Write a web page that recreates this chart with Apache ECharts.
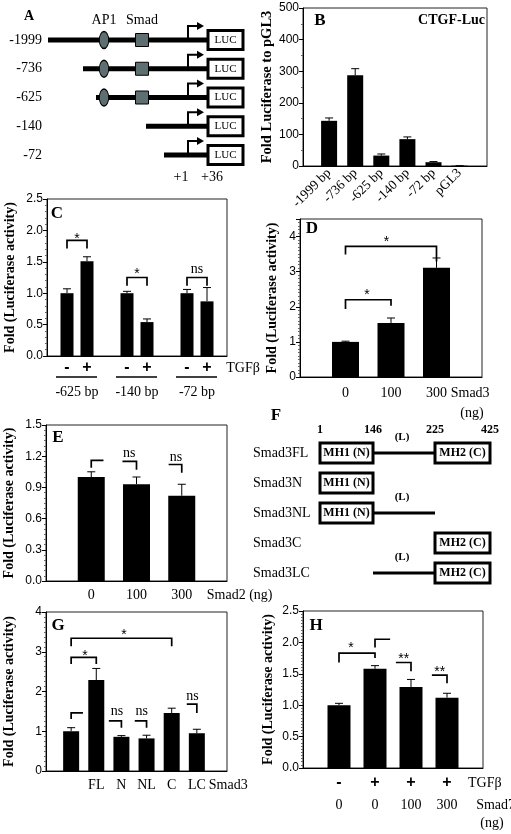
<!DOCTYPE html>
<html><head><meta charset="utf-8">
<script src="https://cdn.jsdelivr.net/npm/echarts@6.0.0/dist/echarts.min.js"></script>
<style>html,body{margin:0;padding:0;background:#fff;}#chart{width:511px;height:834px;}</style>
</head><body><div id="chart"></div>
<script>
// ---------------- DATA ----------------
// Panel A: promoter constructs (schematic units, TSS = 0)
const aNames = ['-1999','-736','-625','-140','-72'];
const aStart = [-140,-105,-92,-42,-24];
const aHasAP1 = [1,1,1,0,0];
const aHasSmad = [1,1,1,0,0];
const aSiteNames = ['AP1','Smad'];
const aSitePos = [-84,-46];
const aLuc = [20,55];
const aMarkNames = ['+1','+36'];
const aMarkPos = [-7,24];

// Panel B
const bCats = ['-1999 bp','-736 bp','-625 bp','-140 bp','-72 bp','pGL3'];
const bVals = [143,287,33,85,12,1];
const bErr  = [9,21,5,7,2,0];
const bTicks = [0,100,200,300,400,500];

// Panel C
const cTGF = ['-','+','-','+','-','+'];
const cPos = [1,2,4,5,7,8];
const cGroups = ['-625 bp','-140 bp','-72 bp'];
const cGroupPos = [1.5,4.5,7.5];
const cVals = [1.0,1.51,1.0,0.54,1.0,0.87];
const cErr  = [0.07,0.07,0.03,0.05,0.06,0.22];
const cTicks = [0,0.5,1,1.5,2,2.5];
const cBrackets = [[1,2,1.84,1.71,1.71],[4,5,1.25,1.12,1.12],[7,8,1.25,1.12,1.12]];
const cMarks = ['*','*','ns'];
const cMarkPos = [[1.5,1.93],[4.5,1.37],[7.5,1.38]];

// Panel D
const dDose = ['0','100','300'];
const dPos = [1,2,3];
const dVals = [1.0,1.54,3.11];
const dErr  = [0.02,0.14,0.28];
const dTicks = [0,1,2,3,4];
const dBrackets = [[1,3,3.72,3.49,3.29],[1,2,2.2,1.94,2.03]];
const dMarks = ['*','*'];
const dMarkPos = [[1.9,3.96],[1.47,2.44]];

// Panel E
const eDose = ['0','100','300'];
const ePos = [1,2,3];
const eVals = [1.0,0.93,0.82];
const eErr  = [0.05,0.07,0.11];
const eTicks = [0,0.3,0.6,0.9,1.2,1.5];
const eBrackets = [[1,1.27,1.16,1.09,null],[1.69,2,1.15,null,1.07],[2.71,3,1.12,null,1.04]];
const eMarks = ['ns','ns'];
const eMarkPos = [[1.84,1.23],[2.87,1.19]];

// Panel F: Smad3 constructs
const fNames = ['Smad3FL','Smad3N','Smad3NL','Smad3C','Smad3LC'];
const fHasMH1 = [1,1,1,0,0];
const fHasL   = [1,0,1,0,1];
const fHasMH2 = [1,0,0,1,1];
const fAA = ['1','146','225','425'];
const fAAPos = [65,118,180,235];
const fDomainText = ['MH1 (N)','MH2 (C)','(L)'];

// Panel G
const gCats = ['FL','N','NL','C','LC','Smad3'];
const gCatPos = [2,3,4,5,6,7.25];
const gPos = [1,2,3,4,5,6];
const gVals = [1.0,2.29,0.86,0.82,1.46,0.95];
const gErr  = [0.09,0.29,0.03,0.08,0.12,0.1];
const gTicks = [0,1,2,3,4];
const gBrackets = [[1,5,3.34,3.14,3.14],[1,2,2.86,2.69,2.69],[1,1.47,1.46,1.31,null],[2.5,3,1.26,null,1.09],[3.53,4,1.26,null,1.09],[5.6,6,1.68,null,1.46]];
const gMarks = ['*','*','ns','ns','ns'];
const gMarkPos = [[3.1,3.52],[1.55,2.99],[2.82,1.49],[3.81,1.49],[5.83,1.88]];

// Panel H
const hTGF = ['-','+','+','+','TGF\u03b2'];
const hTGFPos = [1,2,3,4,5.05];
const hDose = ['0','0','100','300','Smad7'];
const hDosePos = [1,2,3,4,5.35];
const hPos = [1,2,3,4];
const hVals = [1.0,1.58,1.29,1.12];
const hErr  = [0.03,0.05,0.12,0.07];
const hTicks = [0,0.5,1,1.5,2,2.5];
const hBrackets = [[1,2,1.83,1.68,1.75],[2,2.42,2.05,1.92,null],[2.58,3,1.68,null,1.54],[3.58,4,1.48,null,1.35]];
const hMarks = ['*','**','**'];
const hMarkPos = [[1.33,1.98],[2.8,1.79],[3.8,1.59]];

// ---------------- BUILD ----------------
const SERIF = 'Liberation Serif', SANS = 'Liberation Sans';
const grids = [], xAxes = [], yAxes = [], series = [], graphics = [];
const YTITLE = 'Fold (Luciferase activity)';

function hiddenGrid(box, xMin, xMax, yMin, yMax){
  const gi = grids.length;
  grids.push({left:box[0], top:box[1], width:box[2], height:box[3], show:false});
  xAxes.push({gridIndex:gi, type:'value', min:xMin, max:xMax, show:false});
  yAxes.push({gridIndex:gi, type:'value', min:yMin, max:yMax, inverse:true, show:false});
  return gi;
}

function textSeries(gi, texts, pts, dy, st){
  series.push({type:'custom', xAxisIndex:gi, yAxisIndex:gi, clip:false, silent:true, z:6,
    data: pts.map(p=>[p[0], p[1]]),
    renderItem:(params, api)=>{
      const p = api.coord([api.value(0), api.value(1)]);
      const t = texts[params.dataIndex];
      const extra = (st.starShift && t.indexOf('*')>=0) ? st.starShift : 0;
      return {type:'text', x:p[0], y:p[1]+dy+extra,
        style:{text:t, fill:'#000', align:st.align||'center', verticalAlign:'middle',
               fontFamily:st.fontFamily, fontSize:st.fontSize, fontWeight:st.fontWeight||'normal'}};
    }});
}

function barPanel(p){
  const gi = grids.length;
  grids.push({left:p.box[0], top:p.box[1], width:p.box[2], height:p.box[3], show:true,
              borderColor:'#222', borderWidth:1, backgroundColor:'rgba(0,0,0,0)'});
  const ticks = p.ticks, iv = ticks[1]-ticks[0];
  xAxes.push({gridIndex:gi, type:'value', min:0, max:p.xMax, interval:1,
    axisLine:{show:true, onZero:false, lineStyle:{color:'#000', width:1}},
    axisTick:{show:false}, splitLine:{show:false},
    axisLabel: p.xAxisLabel || {show:false}});
  yAxes.push({gridIndex:gi, type:'value', min:ticks[0], max:(p.yMax!==undefined?p.yMax:ticks[ticks.length-1]), interval:iv,
    axisLine:{show:true, lineStyle:{color:'#000', width:1}},
    axisTick:{show:true, length:4, lineStyle:{color:'#000'}},
    minorTick:{show:true, splitNumber:p.minor, length:2, lineStyle:{color:'#666'}},
    splitLine:{show:false},
    axisLabel:{color:'#000', fontFamily:SANS, fontSize:12, margin:4,
      formatter:v=>{const k = ticks.findIndex(t=>Math.abs(t-v)<1e-6); return k<0 ? '' : ticks[k].toFixed(p.dec);}},
    name:p.yName, nameLocation:'middle', nameGap:p.nameGap,
    nameTextStyle:{fontFamily:SERIF, fontWeight:'bold', fontSize:p.nameSize||14, color:'#000'}});
  series.push({type:'bar', xAxisIndex:gi, yAxisIndex:gi, barWidth:p.barW, silent:true, z:2,
    data:p.pos.map((x,i)=>[x, p.vals[i]]), itemStyle:{color:'#000'}});
  const capW = p.capW || 8;
  series.push({type:'custom', xAxisIndex:gi, yAxisIndex:gi, silent:true, z:3, clip:false,
    data:p.pos.map((x,i)=>[x, p.vals[i], p.err[i]]),
    renderItem:(params, api)=>{
      const x = api.value(0), y = api.value(1), e = api.value(2);
      const p0 = api.coord([x,y]), p1 = api.coord([x,y+e]);
      return {type:'group', children:[
        {type:'line', shape:{x1:p0[0], y1:p0[1], x2:p1[0], y2:p1[1]}, style:{stroke:'#000', lineWidth:1}},
        {type:'line', shape:{x1:p1[0]-capW/2, y1:p1[1], x2:p1[0]+capW/2, y2:p1[1]}, style:{stroke:'#000', lineWidth:1}}]};
    }});
  if (p.brackets){
    const br = p.brackets;
    series.push({type:'custom', xAxisIndex:gi, yAxisIndex:gi, silent:true, z:4, clip:false,
      data: br.map(b=>[b[0], b[2]]),
      renderItem:(params, api)=>{
        const b = br[params.dataIndex];
        const pts = [];
        if (b[3]!==null) pts.push(api.coord([b[0], b[3]]));
        pts.push(api.coord([b[0], b[2]]));
        pts.push(api.coord([b[1], b[2]]));
        if (b[4]!==null) pts.push(api.coord([b[1], b[4]]));
        return {type:'polyline', shape:{points:pts}, style:{stroke:'#000', lineWidth:1.7, fill:null}};
      }});
  }
  if (p.marks){
    const stars = [], starPts = [], words = [], wordPts = [];
    p.marks.forEach((m,i)=>{ if (m.indexOf('*')>=0){stars.push(m); starPts.push(p.markPos[i]);} else {words.push(m); wordPts.push(p.markPos[i]);} });
    if (stars.length) textSeries(gi, stars, starPts, 0, {fontFamily:SANS, fontSize:14, starShift:4});
    if (words.length) textSeries(gi, words, wordPts, 0, {fontFamily:SERIF, fontSize:14});
  }
  return gi;
}

// ---------- Panel A ----------
const gA = hiddenGrid([0,40,260,115], -188, 72, 0, 4);
series.push({type:'custom', xAxisIndex:gA, yAxisIndex:gA, clip:false, silent:true, z:5,
  data: aNames.map((n,i)=>[aStart[i], i]),
  renderItem:(params, api)=>{
    const i = params.dataIndex;
    const p0 = api.coord([api.value(0), i]);
    const xs = p0[0], y = p0[1];
    const xT = api.coord([0, i])[0];
    const xL = api.coord([aLuc[0], i])[0], xR = api.coord([aLuc[1], i])[0];
    const ch = [];
    ch.push({type:'line', shape:{x1:xs, y1:y, x2:xL, y2:y}, style:{stroke:'#000', lineWidth:5}});
    if (aHasAP1[i]){
      const xa = api.coord([aSitePos[0], i])[0];
      ch.push({type:'circle', x:xa, y:y, scaleX:0.55, scaleY:1, shape:{cx:0, cy:0, r:8.5}, style:{fill:'#5d6f70', stroke:'#000', lineWidth:1.6}});
    }
    if (aHasSmad[i]){
      const xm = api.coord([aSitePos[1], i])[0];
      ch.push({type:'rect', shape:{x:xm-6.5, y:y-6.5, width:13, height:13}, style:{fill:'#5d6f70', stroke:'#000', lineWidth:1}});
    }
    ch.push({type:'polyline', shape:{points:[[xT, y], [xT, y-14], [xT+10, y-14]]}, style:{stroke:'#000', lineWidth:2, fill:null}});
    ch.push({type:'polygon', shape:{points:[[xT+16, y-14], [xT+9, y-18], [xT+9, y-10]]}, style:{fill:'#000'}});
    ch.push({type:'rect', shape:{x:xL, y:y-9.5, width:xR-xL, height:19}, style:{fill:'#fff', stroke:'#000', lineWidth:3}});
    ch.push({type:'text', x:(xL+xR)/2, y:y, style:{text:'LUC', fill:'#000', align:'center', verticalAlign:'middle', fontFamily:SERIF, fontSize:11}});
    const xn = api.coord([-146, i])[0];
    ch.push({type:'text', x:xn, y:y, style:{text:aNames[i], fill:'#000', align:'right', verticalAlign:'middle', fontFamily:SERIF, fontSize:14}});
    return {type:'group', children:ch};
  }});
textSeries(gA, aSiteNames, aSitePos.map(x=>[x,-0.7]), 0, {fontFamily:SERIF, fontSize:14});
textSeries(gA, aMarkNames, aMarkPos.map(x=>[x,4.77]), 0, {fontFamily:SERIF, fontSize:14});

// ---------- Panel B ----------
barPanel({box:[303,8,184,158], ticks:bTicks, dec:0, xMax:7.05, minor:2,
  pos:[1,2,3,4,5,6], vals:bVals, err:bErr, barW:16, capW:8,
  yName:'Fold Luciferase to pGL3', nameGap:26, nameSize:14.5,
  xAxisLabel:{show:true, rotate:45, margin:5, color:'#000', fontFamily:SERIF, fontSize:13.5,
    formatter:v=>(Number.isInteger(v) && bCats[v-1]) || ''}});

// ---------- Panel C ----------
const gC = barPanel({box:[47,199,180,157], ticks:cTicks, dec:1, xMax:9, minor:5,
  pos:cPos, vals:cVals, err:cErr, barW:13, capW:8, yName:YTITLE, nameGap:30,
  brackets:cBrackets, marks:cMarks, markPos:cMarkPos});
textSeries(gC, cTGF, cPos.map(x=>[x,0]), 12, {fontFamily:SANS, fontSize:16, fontWeight:'bold'});
textSeries(gC, ['TGF\u03b2'], [[9.8,0]], 12, {fontFamily:SERIF, fontSize:14});
textSeries(gC, cGroups, cGroupPos.map(x=>[x,0]), 36, {fontFamily:SERIF, fontSize:14});
series.push({type:'custom', xAxisIndex:gC, yAxisIndex:gC, clip:false, silent:true, z:5,
  data:cGroupPos.map(x=>[x,0]),
  renderItem:(params, api)=>{
    const a = api.coord([api.value(0)-1.05, 0]), b = api.coord([api.value(0)+1.0, 0]);
    return {type:'line', shape:{x1:a[0], y1:a[1]+21, x2:b[0], y2:b[1]+21}, style:{stroke:'#000', lineWidth:1.5}};
  }});

// ---------- Panel D ----------
const gD = barPanel({box:[300,219,182,158], ticks:dTicks, yMax:4.5, dec:0, xMax:4, minor:10,
  pos:dPos, vals:dVals, err:dErr, barW:27, capW:8, yName:YTITLE, nameGap:21,
  brackets:dBrackets, marks:dMarks, markPos:dMarkPos});
textSeries(gD, dDose.concat(['Smad3']), dPos.map(x=>[x,0]).concat([[3.74,0]]), 16, {fontFamily:SERIF, fontSize:14});
textSeries(gD, ['(ng)'], [[3.78,0]], 36, {fontFamily:SERIF, fontSize:14});

// ---------- Panel E ----------
const gE = barPanel({box:[46,425,181,156], ticks:eTicks, dec:1, xMax:4, minor:6,
  pos:ePos, vals:eVals, err:eErr, barW:27, capW:8, yName:YTITLE, nameGap:30,
  brackets:eBrackets, marks:eMarks, markPos:eMarkPos});
textSeries(gE, eDose.concat(['Smad2 (ng)']), ePos.map(x=>[x,0]).concat([[4.28,0]]), 14, {fontFamily:SERIF, fontSize:14});

// ---------- Panel F ----------
const gF = hiddenGrid([255,453,256,120], 0, 256, 0, 4);
series.push({type:'custom', xAxisIndex:gF, yAxisIndex:gF, clip:false, silent:true, z:5,
  data:fNames.map((n,i)=>[0,i]),
  renderItem:(params, api)=>{
    const i = params.dataIndex;
    const y = api.coord([0,i])[1];
    const X = fAAPos.map(v=>api.coord([v,i])[0]);
    const ch = [];
    ch.push({type:'text', x:api.coord([-2,i])[0], y:y, style:{text:fNames[i], fill:'#000', align:'left', verticalAlign:'middle', fontFamily:SERIF, fontSize:14}});
    if (fHasL[i]){
      ch.push({type:'line', shape:{x1:X[1], y1:y, x2:X[2], y2:y}, style:{stroke:'#000', lineWidth:3}});
      ch.push({type:'text', x:(X[1]+X[2])/2-2, y:y-16, style:{text:fDomainText[2], fill:'#000', align:'center', verticalAlign:'middle', fontFamily:SERIF, fontSize:11, fontWeight:'bold'}});
    }
    const box = (x0,x1,t)=>{
      ch.push({type:'rect', shape:{x:x0, y:y-10, width:x1-x0, height:20}, style:{fill:'#fff', stroke:'#000', lineWidth:3}});
      ch.push({type:'text', x:(x0+x1)/2, y:y, style:{text:t, fill:'#000', align:'center', verticalAlign:'middle', fontFamily:SERIF, fontSize:12, fontWeight:'bold'}});
    };
    if (fHasMH1[i]) box(X[0], X[1], fDomainText[0]);
    if (fHasMH2[i]) box(X[2], X[3], fDomainText[1]);
    return {type:'group', children:ch};
  }});
textSeries(gF, fAA, fAAPos.map(x=>[x,-0.77]), 0, {fontFamily:SERIF, fontSize:12, fontWeight:'bold'});

// ---------- Panel G ----------
const gG = barPanel({box:[46,612,181,159], ticks:gTicks, dec:0, xMax:7.2, minor:8,
  pos:gPos, vals:gVals, err:gErr, barW:16, capW:8, yName:YTITLE, nameGap:30,
  brackets:gBrackets, marks:gMarks, markPos:gMarkPos});
textSeries(gG, gCats, gCatPos.map(x=>[x,0]), 14, {fontFamily:SERIF, fontSize:14});

// ---------- Panel H ----------
const gH = barPanel({box:[303,611,180,157], ticks:hTicks, dec:1, xMax:5, minor:10,
  pos:hPos, vals:hVals, err:hErr, barW:23, capW:8, yName:YTITLE, nameGap:28,
  brackets:hBrackets, marks:hMarks, markPos:hMarkPos});
textSeries(gH, hTGF.slice(0,4), hTGFPos.slice(0,4).map(x=>[x,0]), 15, {fontFamily:SANS, fontSize:16, fontWeight:'bold'});
textSeries(gH, hTGF.slice(4), hTGFPos.slice(4).map(x=>[x,0]), 15, {fontFamily:SERIF, fontSize:14});
textSeries(gH, hDose, hDosePos.map(x=>[x,0]), 37, {fontFamily:SERIF, fontSize:14});
textSeries(gH, ['(ng)'], [[5.25,0]], 55, {fontFamily:SERIF, fontSize:14});

// ---------- Panel letters / titles ----------
const letters = [['A',29,16,14],['B',320,21,17],['C',57,214,17],['D',312,229,17],['E',58,438,17],['F',276,416,17],['G',58,626,17],['H',316,626,17]];
letters.forEach(l=>graphics.push({type:'text', x:l[1], y:l[2], style:{text:l[0], fill:'#000', align:'center', verticalAlign:'middle', fontFamily:SERIF, fontSize:l[3], fontWeight:'bold'}}));
graphics.push({type:'text', x:485, y:20, style:{text:'CTGF-Luc', fill:'#000', align:'right', verticalAlign:'middle', fontFamily:SERIF, fontSize:14, fontWeight:'bold'}});

const chart = echarts.init(document.getElementById('chart'), null, {renderer:'canvas'});
chart.setOption({animation:false, backgroundColor:'#fff', grid:grids, xAxis:xAxes, yAxis:yAxes, series:series, graphic:{elements:graphics}});
</script>
</body></html>
